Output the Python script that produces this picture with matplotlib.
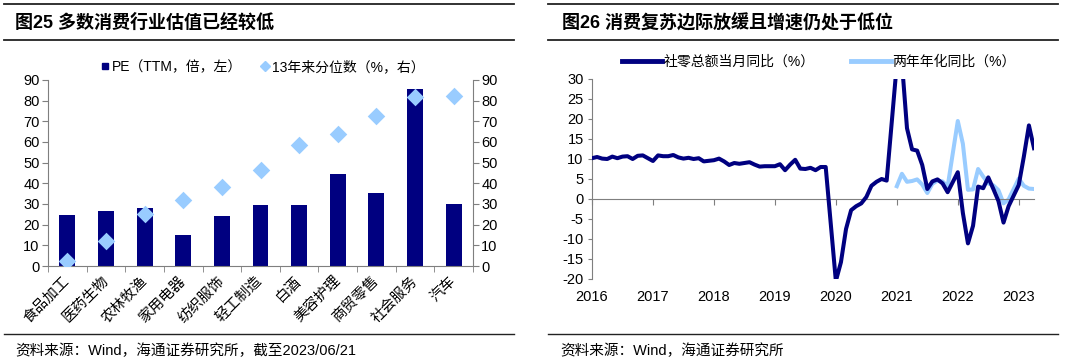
import matplotlib
matplotlib.use('Agg')
import matplotlib.pyplot as plt
from matplotlib.lines import Line2D
import matplotlib.transforms as mtransforms
import pandas as pd

plt.rcParams['font.family'] = ['Liberation Sans', 'Noto Sans CJK SC']
plt.rcParams['axes.unicode_minus'] = False

# ---- 图25 数据
industries = ['食品加工', '医药生物', '农林牧渔', '家用电器', '纺织服饰', '轻工制造',
              '白酒', '美容护理', '商贸零售', '社会服务', '汽车']
pe_ttm = [24.9, 26.7, 28.1, 14.9, 24.2, 29.6, 29.7, 44.4, 35.5, 85.6, 29.9]
pct_13y = [2.6, 12.0, 25.2, 32.1, 38.3, 46.5, 58.6, 63.8, 72.5, 81.6, 82.2]

# ---- 图26 数据 (月度, 1月缺失, 2月为1-2月合计)
retail_yoy = [
    10.2, 10.5, 10.1, 10.0, 10.6, 10.2, 10.6, 10.7, 10.0, 10.8, 10.9,   # 2016
    9.5, 10.9, 10.7, 10.7, 11.0, 10.4, 10.1, 10.3, 10.0, 10.2, 9.4,     # 2017
    9.7, 10.1, 9.4, 8.5, 9.0, 8.8, 9.0, 9.2, 8.6, 8.1, 8.2,             # 2018
    8.2, 8.7, 7.2, 8.6, 9.8, 7.6, 7.5, 7.8, 7.2, 8.0, 8.0,              # 2019
    -20.5, -15.8, -7.5, -2.8, -1.8, -1.1, 0.5, 3.3, 4.3, 5.0, 4.6,      # 2020
    33.8, 34.2, 17.7, 12.4, 12.1, 8.5, 2.5, 4.4, 4.9, 3.9, 1.7,         # 2021
    6.7, -3.5, -11.1, -6.7, 3.1, 2.7, 5.4, 2.5, -0.5, -5.9, -1.8,       # 2022
    3.5, 10.6, 18.4, 12.7,                                              # 2023
]
two_year_yoy = [
    3.2, 6.3, 4.3, 4.5, 4.9, 3.6, 1.5, 3.8, 4.6, 4.4, 3.1,              # 2021
    19.5, 13.8, 2.3, 2.4, 7.5, 5.6, 3.9, 3.4, 2.2, -1.1, -0.1,          # 2022
    5.1, 3.3, 2.6, 2.5,                                                 # 2023
]
years = list(range(2016, 2024))

navy = '#000080'
light = '#99CCFF'
axis_c = '#7f7f7f'

months = pd.date_range('2016-02-01', '2023-05-01', freq='MS')
months = months[months.month != 1]
x_retail = [d.year + (d.month - 2) / 12 for d in months]
x_two = x_retail[-len(two_year_yoy):]

W, H = 1080, 361
fig = plt.figure(figsize=(W / 100, H / 100), dpi=100)


def fx(px):
    return px / W


def fy(py):
    return 1 - py / H


# 装饰线
for (a, b) in [(4, 514), (548, 1058)]:
    for y in (4, 40, 334):
        fig.add_artist(Line2D([fx(a), fx(b)], [fy(y), fy(y)], color='#222222',
                              lw=1.3 if y != 334 else 1.0, transform=fig.transFigure))

fig.text(fx(15), fy(23), '图25 多数消费行业估值已经较低', fontsize=13, fontweight='bold',
         va='center', ha='left')
fig.text(fx(562), fy(23), '图26 消费复苏边际放缓且增速仍处于低位', fontsize=13, fontweight='bold',
         va='center', ha='left')
fig.text(fx(15), fy(351), '资料来源：Wind，海通证券研究所，截至2023/06/21', fontsize=10.5,
         va='center', ha='left')
fig.text(fx(560), fy(351), '资料来源：Wind，海通证券研究所', fontsize=10.5,
         va='center', ha='left')

# ---- 左图
ax1 = fig.add_axes([fx(48), fy(266), fx(473) - fx(48), fy(80) - fy(266)])
x = list(range(len(industries)))
ax1.bar(x, pe_ttm, width=0.41, color=navy, zorder=2)
ax1.set_xlim(-0.5, len(industries) - 0.5)
ax1.set_ylim(0, 90)
ax1.set_yticks(range(0, 91, 10))
ax1.set_xticks(x)
ax1.set_xticklabels(industries, rotation=45, ha='right', va='center', rotation_mode='anchor',
                    fontsize=10.5)
shift = mtransforms.ScaledTranslation(3 / 100, -2 / 100, fig.dpi_scale_trans)
for lab in ax1.get_xticklabels():
    lab.set_transform(lab.get_transform() + shift)
ax1.set_xticks([i - 0.5 for i in range(len(industries) + 1)], minor=True)
ax1.tick_params(axis='x', which='major', length=0, pad=9)
ax1.tick_params(axis='x', which='minor', length=4, direction='out', color=axis_c)
ax1.tick_params(axis='y', length=4, direction='out', color=axis_c, labelsize=10.5, pad=2)
for s in ['top', 'right']:
    ax1.spines[s].set_visible(False)
for s in ['left', 'bottom']:
    ax1.spines[s].set_color(axis_c)

ax1r = ax1.twinx()
ax1r.scatter(x, pct_13y, marker='D', s=80, color=light, zorder=3, linewidths=0)
ax1r.set_ylim(0, 90)
ax1r.set_yticks(range(0, 91, 10))
ax1r.tick_params(axis='y', length=4, direction='out', color=axis_c, labelsize=10.5, pad=2)
for s in ['top', 'left', 'bottom']:
    ax1r.spines[s].set_visible(False)
ax1r.spines['right'].set_color(axis_c)

fig.legend(handles=[Line2D([], [], marker='s', ls='', color=navy, ms=5),
                    Line2D([], [], marker='D', ls='', color=light, ms=5)],
           labels=['PE（TTM，倍，左）', '13年来分位数（%，右）'],
           loc='center left', bbox_to_anchor=(fx(101), fy(67)), ncol=2, frameon=False,
           handlelength=0.6, handletextpad=0.2, columnspacing=1.3, fontsize=10,
           borderpad=0, borderaxespad=0)

# ---- 右图
ax2 = fig.add_axes([fx(592), fy(279), fx(1034) - fx(592), fy(79) - fy(279)])
ax2.plot(x_retail, retail_yoy, color=navy, lw=2.9, solid_joinstyle='round', zorder=3)
ax2.plot(x_two, two_year_yoy, color=light, lw=2.9, solid_joinstyle='round', zorder=2)
ax2.set_xlim(2016, 2023.25)
ax2.set_ylim(-20, 30)
ax2.set_yticks(range(-20, 31, 5))
ax2.tick_params(axis='y', length=3, direction='out', color=axis_c, labelsize=10.5, pad=3)
ax2.spines['bottom'].set_position(('data', 0))
ax2.spines['bottom'].set_color(axis_c)
ax2.spines['left'].set_color(axis_c)
for s in ['top', 'right']:
    ax2.spines[s].set_visible(False)
ax2.set_xticks(years)
ax2.tick_params(axis='x', length=4, direction='out', color=axis_c, labelbottom=False)
sec = ax2.secondary_xaxis(0.0)
sec.set_xticks(years)
sec.set_xticklabels([str(y) for y in years])
sec.tick_params(axis='x', length=0, pad=8, labelsize=10.5)
sec.spines['bottom'].set_visible(False)

fig.legend(handles=[Line2D([], [], color=navy, lw=3.5), Line2D([], [], color=light, lw=3.5)],
           labels=['社零总额当月同比（%）', '两年年化同比（%）'],
           loc='center left', bbox_to_anchor=(fx(622), fy(62)), ncol=2, frameon=False,
           handlelength=2.9, handletextpad=0.1, columnspacing=2.6, fontsize=10,
           borderpad=0, borderaxespad=0)

fig.savefig('out.png', dpi=100)
